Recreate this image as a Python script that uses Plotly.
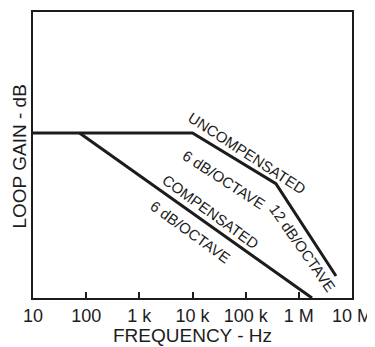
import plotly.graph_objects as go

# Data (schematic loop-gain curves)
uncomp_freq = [10, 1e4, 3.7e5, 5.0e6]
uncomp_gain = [57.7, 57.7, 40.0, 7.7]
comp_freq = [75, 1.77e6]
comp_gain = [57.7, 0.0]

tick_vals = [10, 100, 1e3, 1e4, 1e5, 1e6, 1e7]
tick_text = ["10", "100", "1 k", "10 k", "100 k", "1 M", "10 M"]

INK = "#1c1c1c"
FONT = "Liberation Sans, Arial, Helvetica, sans-serif"

fig = go.Figure()
fig.add_trace(go.Scatter(x=uncomp_freq, y=uncomp_gain, mode="lines",
                         line=dict(color=INK, width=3), showlegend=False, hoverinfo="skip"))
fig.add_trace(go.Scatter(x=comp_freq, y=comp_gain, mode="lines",
                         line=dict(color=INK, width=3), showlegend=False, hoverinfo="skip"))

labels = [
    ("UNCOMPENSATED", 5.04, 50.7, 33),
    ("6 dB/OCTAVE", 4.59, 41.6, 33),
    ("12 dB/OCTAVE", 6.06, 17.5, 55),
    ("COMPENSATED", 4.33, 30.1, 36),
    ("6 dB/OCTAVE", 3.95, 23.1, 36),
]
for txt, lx, ly, ang in labels:
    fig.add_annotation(x=lx, y=ly, xref="x", yref="y", text=txt, showarrow=False,
                       textangle=ang, font=dict(family=FONT, size=15, color=INK))

# axis titles as annotations for precise placement
fig.add_annotation(x=0.5, y=0, xref="paper", yref="paper", text="FREQUENCY - Hz",
                   showarrow=False, xanchor="center", yanchor="middle", yshift=-37,
                   font=dict(family=FONT, size=19, color=INK))
fig.add_annotation(x=0, y=0.5, xref="paper", yref="paper", text="LOOP GAIN - dB",
                   showarrow=False, textangle=-90, xanchor="center", yanchor="middle",
                   xshift=-14.5, yshift=-2, font=dict(family=FONT, size=19, color=INK))

# page body has an 8px default margin, so the figure is sized/offset to compensate
fig.update_layout(
    width=367, height=339,
    margin=dict(l=25, r=23, t=4, b=49, autoexpand=False),
    paper_bgcolor="white", plot_bgcolor="white",
    font=dict(family=FONT, color=INK),
    xaxis=dict(type="log", range=[1, 7], tickvals=tick_vals, ticktext=tick_text,
               ticks="inside", ticklen=6, tickwidth=2, tickcolor=INK,
               showline=True, linewidth=2, linecolor=INK, mirror=True,
               showgrid=False, zeroline=False, automargin=False,
               tickfont=dict(family=FONT, size=18, color=INK)),
    yaxis=dict(range=[0, 100], showticklabels=False, ticks="",
               showline=True, linewidth=2, linecolor=INK, mirror=True,
               showgrid=False, zeroline=False, automargin=False),
)

fig.write_html("out.html")
